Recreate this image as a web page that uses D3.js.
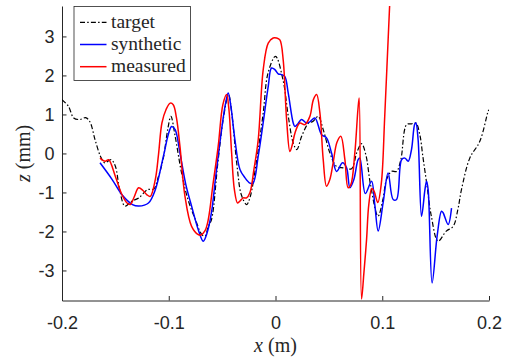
<!DOCTYPE html>
<html lang="en">
<head>
    <meta charset="UTF-8">
    <title>z profile</title>
    <script src="https://d3js.org/d3.v7.min.js"></script>
    <style>
        body { margin: 0; background: #fff; }
        .axis text { font-family: "Liberation Sans", Arial, sans-serif; font-size: 18px; fill: #262626; }
        .axis path, .axis line { stroke: #262626; stroke-width: 1; }
        .serif { font-family: "Liberation Serif", "Times New Roman", serif; fill: #262626; }
    </style>
</head>
<body>
    <svg width="505" height="363"></svg>

    <script type="text/javascript">
        // target profile (x in m, z in mm)
        const targetX = [-0.200, -0.194, -0.189, -0.183, -0.178, -0.174, -0.169, -0.164, -0.160, -0.154,
            -0.150, -0.146, -0.141, -0.135, -0.128, -0.120, -0.114, -0.110, -0.106, -0.104,
            -0.101, -0.098, -0.094, -0.088, -0.082, -0.075, -0.069, -0.066, -0.063, -0.060,
            -0.054, -0.049, -0.044, -0.041, -0.036, -0.032, -0.027, -0.024, -0.018, -0.0115,
            -0.007, 0.000, 0.007, 0.012, 0.0166, 0.020, 0.0245, 0.031, 0.035, 0.040,
            0.0447, 0.051, 0.057, 0.0634, 0.0713, 0.076, 0.0806, 0.0846, 0.089, 0.096,
            0.1006, 0.104, 0.1087, 0.1134, 0.1174, 0.1228, 0.1274, 0.1315, 0.1352, 0.138,
            0.1418, 0.146, 0.1523, 0.160, 0.1664, 0.1708, 0.1742, 0.182, 0.1914, 0.1992, 0.200];
        const targetZ = [1.38, 1.21, 0.91, 0.87, 0.92, 0.82, 0.35, -0.07, -0.24, -0.16,
            -0.33, -0.93, -1.35, -1.23, -1.14, -0.93, -0.91, -0.62, -0.24, 0.05,
            0.61, 0.95, 0.44, -0.50, -1.18, -1.70, -2.08, -2.12, -1.87, -1.70,
            -0.24, 0.87, 1.51, 1.04, -0.33, -1.06, -1.31, -1.14, -0.24, 1.04,
            2.06, 2.49, 1.89, 0.95, 0.27, 0.10, 0.44, 0.78, 0.82, 0.95,
            0.61, 0.01, -0.33, -0.37, -0.39, 0.01, 0.25, -0.03, -0.80, -1.61,
            -1.18, -0.67, -0.46, -0.46, -0.16, 0.74, 0.76, 0.78, 0.48, -0.07,
            -0.80, -1.61, -2.25, -1.99, -1.87, -1.44, -0.93, -0.12, 0.31, 1.08, 1.12];

        // synthetic profile
        const syntheticX = [-0.1644, -0.153, -0.1438, -0.134, -0.128, -0.119, -0.1126, -0.1064, -0.1036, -0.1005,
            -0.0973, -0.094, -0.0895, -0.084, -0.0786, -0.0724, -0.0677, -0.064, -0.060, -0.0558,
            -0.0505, -0.047, -0.0443, -0.042, -0.038, -0.0333, -0.0287, -0.024, -0.021, -0.0162,
            -0.0118, -0.0068, -0.0037, -0.0006, 0.0025, 0.0057, 0.0088, 0.0119, 0.0166, 0.0182,
            0.021, 0.0244, 0.0291, 0.0322, 0.0369, 0.0432, 0.0478, 0.0525, 0.0572, 0.0628,
            0.0666, 0.0697, 0.0734, 0.0774, 0.079, 0.0842, 0.090, 0.093, 0.0962, 0.1008,
            0.1055, 0.1102, 0.1134, 0.1181, 0.1212, 0.1243, 0.1274, 0.1305, 0.1315, 0.1336,
            0.1368, 0.140, 0.1415, 0.143, 0.1467, 0.1514, 0.1555, 0.157, 0.1617, 0.1649];
        const syntheticZ = [-0.24, -0.67, -1.06, -1.31, -1.35, -1.27, -0.93, -0.24, 0.10, 0.48,
            0.69, 0.61, 0.01, -0.80, -1.35, -1.95, -2.25, -2.03, -1.52, -0.54,
            0.61, 1.25, 1.55, 1.25, 0.35, -0.41, -0.62, -0.76, -0.76, -0.07,
            0.74, 1.72, 2.19, 2.15, 2.04, 2.02, 1.97, 1.55, 0.78, 0.69,
            0.76, 0.87, 0.78, 0.81, 0.91, 0.48, 0.40, 0.01, -0.46, -0.24,
            -0.37, -0.88, -0.67, -0.16, -0.12, -1.03, -0.71, -1.31, -1.99, -1.27,
            -0.50, -1.18, -1.18, -0.16, -0.12, -0.20, 0.10, 0.76, 0.78, 0.35,
            -1.61, -0.93, -0.71, -0.93, -3.32, -2.12, -1.48, -1.52, -1.82, -1.40];

        // measured profile
        const measuredX = [-0.1644, -0.1595, -0.1563, -0.150, -0.1438, -0.1391, -0.136, -0.1326, -0.1282, -0.1242,
            -0.1204, -0.1173, -0.1126, -0.1096, -0.1064, -0.1026, -0.0986, -0.0958, -0.0928, -0.0895,
            -0.0848, -0.0786, -0.0724, -0.0698, -0.066, -0.063, -0.0586, -0.0537, -0.0493, -0.0458,
            -0.0436, -0.0411, -0.0385, -0.0355, -0.0329, -0.0302, -0.0271, -0.024, -0.0202, -0.0162,
            -0.0115, -0.0068, -0.0022, 0.001, 0.0041, 0.0072, 0.0104, 0.0135, 0.0158, 0.0182,
            0.0228, 0.0275, 0.0322, 0.0355, 0.0385, 0.0416, 0.0447, 0.0478, 0.0509, 0.054,
            0.0575, 0.0612, 0.065, 0.068, 0.0706, 0.0743, 0.0772, 0.0784, 0.0806, 0.0827,
            0.0853, 0.0874, 0.0902, 0.0925, 0.0958, 0.0992, 0.1023, 0.1069, 0.1083];
        const measuredZ = [-0.12, -0.20, -0.16, -0.59, -1.06, -1.27, -1.31, -1.13, -0.88, -0.95,
            -1.06, -1.10, -0.67, -0.03, 0.78, 1.12, 1.29, 1.25, 0.92, 0.18,
            -1.10, -1.87, -2.08, -2.09, -1.98, -1.70, -0.80, 0.18, 1.25, 1.51,
            1.12, 0.01, -0.93, -1.27, -1.21, -1.14, -1.14, -1.01, -0.41, 0.35,
            2.15, 2.83, 2.96, 2.96, 2.91, 2.40, 0.87, 0.05, 0.23, 0.52,
            0.78, 0.74, 0.95, 1.38, 1.51, 1.04, -0.16, -0.84, -0.67, -0.24,
            0.28, 0.44, -0.16, -0.88, -0.80, 0.01, 1.12, 1.42, -3.73, -3.10,
            -2.21, -1.31, -0.90, -0.98, -1.26, -0.75, 0.94, 3.78, 4.58];

        const xTicks = [-0.2, -0.1, 0, 0.1, 0.2];
        const zTicks = [-3, -2, -1, 0, 1, 2, 3];

        const width = 505;
        const height = 363;
        const margin = { top: 6, right: 16, bottom: 62.5, left: 62 };

        const svg = d3.select('svg');

        const x = d3.scaleLinear()
            .domain([-0.2, 0.2])
            .range([margin.left, width - margin.right]);

        const y = d3.scaleLinear()
            .domain([-3.77, 3.78])
            .range([height - margin.bottom, margin.top]);

        svg.append('defs').append('clipPath')
            .attr('id', 'plot-clip')
            .append('rect')
            .attr('x', margin.left)
            .attr('y', margin.top)
            .attr('width', width - margin.left - margin.right)
            .attr('height', height - margin.top - margin.bottom);

        // Axes (box off, ticks pointing in)
        svg.append('g')
            .attr('class', 'axis')
            .attr('transform', `translate(0,${height - margin.bottom})`)
            .call(d3.axisBottom(x).tickValues(xTicks).tickFormat(d => d === 0 ? '0' : d3.format('.1f')(d).replace('−', '-'))
                .tickSizeInner(-4.5).tickSizeOuter(0).tickPadding(15.5));

        svg.append('g')
            .attr('class', 'axis')
            .attr('transform', `translate(${margin.left},0)`)
            .call(d3.axisLeft(y).tickValues(zTicks).tickFormat(d => String(d))
                .tickSizeInner(-4.5).tickSizeOuter(0).tickPadding(7.5));

        // Curves
        const series = [
            { name: 'target', xs: targetX, zs: targetZ, color: '#000000', dash: '5,2.2,1.5,2.2', w: 1.2 },
            { name: 'synthetic', xs: syntheticX, zs: syntheticZ, color: '#0000ff', dash: null, w: 1.5 },
            { name: 'measured', xs: measuredX, zs: measuredZ, color: '#ff0000', dash: null, w: 1.5 }
        ];

        const line = d3.line()
            .x(d => x(d[0]))
            .y(d => y(d[1]))
            .curve(d3.curveCatmullRom.alpha(0.5));

        const plot = svg.append('g').attr('clip-path', 'url(#plot-clip)');

        plot.selectAll('path')
            .data(series)
            .join('path')
            .attr('d', s => line(d3.zip(s.xs, s.zs)))
            .attr('fill', 'none')
            .attr('stroke', s => s.color)
            .attr('stroke-width', s => s.w)
            .attr('stroke-dasharray', s => s.dash);

        // Labels
        const xLabel = svg.append('text')
            .attr('class', 'serif')
            .attr('x', x(0))
            .attr('y', 352)
            .attr('text-anchor', 'middle')
            .style('font-size', '20px');
        xLabel.append('tspan').style('font-style', 'italic').text('x');
        xLabel.append('tspan').text(' (m)');

        const yLabel = svg.append('text')
            .attr('class', 'serif')
            .attr('transform', `translate(30,${y(0)}) rotate(-90)`)
            .attr('text-anchor', 'middle')
            .style('font-size', '20px');
        yLabel.append('tspan').style('font-style', 'italic').text('z');
        yLabel.append('tspan').text(' (mm)');

        // Legend
        const legend = svg.append('g').attr('transform', 'translate(74,6.5)');
        legend.append('rect')
            .attr('width', 116.5)
            .attr('height', 74)
            .attr('fill', '#fff')
            .attr('stroke', '#262626')
            .attr('stroke-width', 0.8);

        const rows = legend.selectAll('g.row')
            .data(series)
            .join('g')
            .attr('class', 'row')
            .attr('transform', (d, i) => `translate(0,${15.8 + i * 22.2})`);

        rows.append('line')
            .attr('x1', 6).attr('x2', 32.5)
            .attr('stroke', d => d.color)
            .attr('stroke-width', d => d.w)
            .attr('stroke-dasharray', d => d.dash);

        rows.append('text')
            .attr('class', 'serif')
            .attr('x', 37)
            .attr('y', 5.5)
            .style('font-size', '19.5px')
            .text(d => d.name);
    </script>
</body>
</html>
